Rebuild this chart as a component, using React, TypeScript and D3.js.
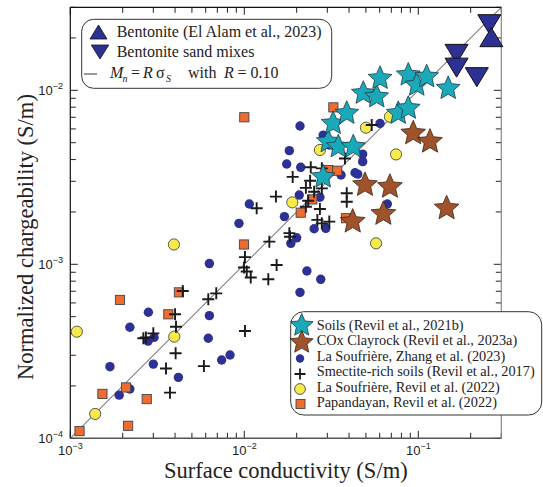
import React from 'react';
import * as d3 from 'd3';

// ---------- data ----------
const xDomain: [number, number] = [1e-3, 0.3];
const yDomain: [number, number] = [1e-4, 0.03];
const xMajorTicks = [1e-3, 1e-2, 1e-1];
const xMajorExp = ['−3', '−2', '−1'];
const yMajorTicks = [1e-4, 1e-3, 1e-2];
const yMajorExp = ['−4', '−3', '−2'];
const lineR = 0.1;

const bentonite: [number, number][] = [[0.263, 0.0202]];
const bentoniteSand: [number, number][] = [
  [0.256, 0.024], [0.166, 0.0162], [0.166, 0.0135], [0.217, 0.0119],
];
const soils: [number, number][] = [
  [0.0284, 0.00318], [0.0304, 0.00507], [0.0347, 0.00474], [0.0423, 0.00474],
  [0.0324, 0.00645], [0.0388, 0.00738], [0.0483, 0.00962], [0.0577, 0.00918],
  [0.0603, 0.01172], [0.0767, 0.00738], [0.0876, 0.00789], [0.0876, 0.01225],
  [0.098, 0.01071], [0.1117, 0.01197], [0.1486, 0.01026],
];
const coxClayrock: [number, number][] = [
  [0.0935, 0.00566], [0.1167, 0.00507], [0.0494, 0.00286], [0.0687, 0.00279],
  [0.1455, 0.0021], [0.063, 0.00195], [0.042, 0.00176],
];
const soufriereZhang: [number, number][] = [
  [0.0209, 0.00624], [0.01815, 0.0045], [0.0284, 0.00553], [0.0479, 0.0043],
  [0.0603, 0.00645], [0.0479, 0.00389], [0.01753, 0.00377], [0.0211, 0.00361],
  [0.0433, 0.00336], [0.0449, 0.0033], [0.036, 0.00326], [0.0207, 0.0025],
  [0.0272, 0.00243], [0.01069, 0.00222], [0.0664, 0.00222], [0.017, 0.00188],
  [0.00932, 0.00172], [0.0252, 0.0016], [0.0294, 0.00161], [0.02, 0.00142],
  [0.01852, 0.00132], [0.0063, 0.00101], [0.0229, 0.000915], [0.0275, 0.00082],
  [0.0209, 0.00069], [0.00281, 0.00053], [0.0063, 0.000507], [0.0022, 0.000435],
  [0.00303, 0.00038], [0.0028, 0.000362], [0.00621, 0.000376], [0.00828, 0.000301],
  [0.00741, 0.000282], [0.003, 0.000267], [0.00169, 0.000258], [0.00418, 0.000224],
  [0.0022, 0.000192], [0.00191, 0.000177], [0.0308, 0.00485],
];
const smectiteSoils: [number, number][] = [
  [0.0241, 0.00361], [0.0279, 0.00356], [0.01897, 0.00318], [0.0239, 0.00302],
  [0.0226, 0.00275], [0.0252, 0.00261], [0.0279, 0.00273], [0.0152, 0.00245],
  [0.0388, 0.00256], [0.0388, 0.00229], [0.0233, 0.00232], [0.0226, 0.00214],
  [0.01178, 0.0021], [0.0272, 0.00208], [0.0263, 0.0018], [0.0279, 0.00172],
  [0.0308, 0.00176], [0.01815, 0.00151], [0.01832, 0.00144], [0.01393, 0.00135],
  [0.01009, 0.0011], [0.01534, 0.00099], [0.00996, 0.000958], [0.01033, 0.000909],
  [0.01089, 0.00084], [0.01374, 0.00082], [0.0069, 0.000681], [0.00621, 0.00063],
  [0.00443, 0.000703], [0.004, 0.000516], [0.0379, 0.00406], [0.054, 0.00632],
  [0.00405, 0.000438], [0.003, 0.000401], [0.00272, 0.00038], [0.00263, 0.000376],
  [0.00403, 0.000308], [0.01009, 0.000414], [0.00355, 0.000252], [0.00586, 0.00026],
  [0.00374, 0.000183],
];
const soufriereRevil: [number, number][] = [
  [0.0272, 0.00454], [0.05005, 0.0061], [0.0687, 0.00705], [0.0745, 0.00428],
  [0.01888, 0.00227], [0.00394, 0.0013], [0.0572, 0.00132], [0.00109, 0.00041],
  [0.00396, 0.000384], [0.00139, 0.000138],
];
const papandayan: [number, number][] = [
  [0.0325, 0.00798], [0.01, 0.007], [0.0304, 0.00348], [0.0342, 0.00345],
  [0.0246, 0.00236], [0.0211, 0.00198], [0.0384, 0.00184], [0.00996, 0.0013],
  [0.00421, 0.00069], [0.00193, 0.000624], [0.00366, 0.000516], [0.00209, 0.000196],
  [0.00153, 0.00018], [0.00275, 0.000168], [0.00215, 0.000118], [0.00113, 0.00011],
];

const legend1Labels = ['Bentonite (El Alam et al., 2023)', 'Bentonite sand mixes'];
const legend2Labels = [
  'Soils (Revil et al., 2021b)',
  'COx Clayrock (Revil et al., 2023a)',
  'La Soufrière, Zhang et al. (2023)',
  'Smectite-rich soils (Revil et al., 2017)',
  'La Soufrière, Revil et al. (2022)',
  'Papandayan, Revil et al. (2022)',
];

// ---------- styles ----------
const W = 543;
const H = 487;
const PL = 70.3, PR = 501.3, PT = 7.3, PB = 438.3;
const SERIF = 'Liberation Serif, DejaVu Serif, serif';
const SANS = 'Liberation Sans, Arial, sans-serif';
const C_CYAN = '#1aa9b8';
const C_BROWN = '#a0532a';
const C_NAVY = '#2c3193';
const C_YELLOW = '#f6ea4c';
const C_ORANGE = '#ef6c31';

function starPath(cx: number, cy: number, R: number, r: number) {
  const pts: string[] = [];
  for (let i = 0; i < 10; i++) {
    const rad = i % 2 === 0 ? R : r;
    const a = -Math.PI / 2 + (i * Math.PI) / 5;
    pts.push(`${(cx + rad * Math.cos(a)).toFixed(2)},${(cy + rad * Math.sin(a)).toFixed(2)}`);
  }
  return 'M' + pts.join('L') + 'Z';
}
function triPath(cx: number, cy: number, w: number, h: number, up: boolean) {
  if (up) return `M${cx - w / 2},${cy + h / 2}L${cx + w / 2},${cy + h / 2}L${cx},${cy - h / 2}Z`;
  return `M${cx - w / 2},${cy - h / 2}L${cx + w / 2},${cy - h / 2}L${cx},${cy + h / 2}Z`;
}
function plusPath(cx: number, cy: number, s: number) {
  return `M${cx - s / 2},${cy}H${cx + s / 2}M${cx},${cy - s / 2}V${cy + s / 2}`;
}

export default function App() {
  const x = d3.scaleLog().domain(xDomain).range([PL, PR]);
  const y = d3.scaleLog().domain(yDomain).range([PB, PT]);
  const xt = x.ticks();
  const yt = y.ticks();
  const isMajor = (v: number) => Math.abs(Math.log10(v) - Math.round(Math.log10(v))) < 1e-6;

  const lineStart = xDomain[0];
  const lineEnd = xDomain[1];

  return (
    <svg width={W} height={H} style={{ position: 'absolute', left: 0, top: 0, background: '#fff' }}>
      <rect x={0} y={0} width={W} height={H} fill="#fff" />
      {/* ticks */}
      {xt.map((v, i) => {
        const L = isMajor(v) ? 7.5 : 5.5;
        const px = x(v);
        return (
          <g key={'xt' + i} stroke="#222" strokeWidth={1}>
            <line x1={px} x2={px} y1={PB} y2={PB - L} />
            <line x1={px} x2={px} y1={PT} y2={PT + L} />
          </g>
        );
      })}
      {yt.map((v, i) => {
        const L = isMajor(v) ? 7.5 : 5.5;
        const py = y(v);
        return (
          <g key={'yt' + i} stroke="#222" strokeWidth={1}>
            <line x1={PL} x2={PL + L} y1={py} y2={py} />
            <line x1={PR} x2={PR - L} y1={py} y2={py} />
          </g>
        );
      })}
      {/* spines */}
      <line x1={PL} x2={PR} y1={PT} y2={PT} stroke="#111" strokeWidth={1.2} />
      <line x1={PL} x2={PL} y1={PT} y2={PB} stroke="#111" strokeWidth={1.2} />
      <line x1={PL} x2={PR} y1={PB} y2={PB} stroke="#555" strokeWidth={1.5} />
      <line x1={PR} x2={PR} y1={PT} y2={PB} stroke="#888" strokeWidth={1.2} />

      {/* tick labels */}
      {xMajorTicks.map((v, i) => (
        <text key={'xl' + i} x={x(v)} y={455} textAnchor="middle" fontFamily={SANS} fontSize={13} fill="#222">
          10<tspan dy={-6} fontSize={9}>{xMajorExp[i]}</tspan>
        </text>
      ))}
      {yMajorTicks.map((v, i) => (
        <text key={'yl' + i} x={63} y={y(v) + 5} textAnchor="end" fontFamily={SANS} fontSize={13} fill="#222">
          10<tspan dy={-6} fontSize={9}>{yMajorExp[i]}</tspan>
        </text>
      ))}

      {/* axis titles */}
      <text x={(PL + PR) / 2} y={478} textAnchor="middle" fontFamily={SERIF} fontSize={22.5} fill="#222">
        Surface conductivity (S/m)
      </text>
      <text transform={`translate(33,${237}) rotate(-90)`} textAnchor="middle" fontFamily={SERIF} fontSize={22.5} fill="#222">
        Normalized chargeability (S/m)
      </text>

      {/* reference line */}
      <line x1={x(lineStart)} y1={y(lineStart * lineR)} x2={x(lineEnd)} y2={y(lineEnd * lineR)} stroke="#444" strokeWidth={1} />

      {/* data */}
      {soufriereZhang.map((d, i) => (
        <circle key={'bz' + i} cx={x(d[0])} cy={y(d[1])} r={4.7} fill={C_NAVY} />
      ))}
      {soufriereRevil.map((d, i) => (
        <circle key={'yr' + i} cx={x(d[0])} cy={y(d[1])} r={5.6} fill={C_YELLOW} stroke="#333" strokeWidth={0.8} />
      ))}
      {papandayan.map((d, i) => (
        <rect key={'pp' + i} x={x(d[0]) - 4.6} y={y(d[1]) - 4.6} width={9.2} height={9.2} fill={C_ORANGE} stroke="#444" strokeWidth={0.9} />
      ))}
      {smectiteSoils.map((d, i) => (
        <path key={'sm' + i} d={plusPath(x(d[0]), y(d[1]), 12)} stroke="#1a1a1a" strokeWidth={1.9} fill="none" />
      ))}
      {coxClayrock.map((d, i) => (
        <path key={'cx' + i} d={starPath(x(d[0]), y(d[1]), 13, 6)} fill={C_BROWN} stroke="#3a2414" strokeWidth={0.8} />
      ))}
      {soils.map((d, i) => (
        <path key={'so' + i} d={starPath(x(d[0]), y(d[1]), 12.5, 5.8)} fill={C_CYAN} stroke="#1d3a48" strokeWidth={0.8} />
      ))}
      {bentoniteSand.map((d, i) => (
        <path key={'bs' + i} d={triPath(x(d[0]), y(d[1]), 23, 19, false)} fill={C_NAVY} stroke="#111" strokeWidth={1} />
      ))}
      {bentonite.map((d, i) => (
        <path key={'bt' + i} d={triPath(x(d[0]), y(d[1]), 23, 19, true)} fill={C_NAVY} stroke="#111" strokeWidth={1} />
      ))}

      {/* legend 1 */}
      <rect x={81.7} y={19.3} width={250} height={69} rx={12} ry={12} fill="#fff" stroke="#333" strokeWidth={1} />
      <path d={triPath(98.5, 32, 17, 14, true)} fill={C_NAVY} stroke="#111" strokeWidth={0.8} />
      <path d={triPath(100, 52, 17.5, 14, false)} fill={C_NAVY} stroke="#111" strokeWidth={0.8} />
      <line x1={84} x2={97} y1={74} y2={74} stroke="#777" strokeWidth={1.5} />
      <text x={116.7} y={37} fontFamily={SERIF} fontSize={16} fill="#222">{legend1Labels[0]}</text>
      <text x={116.7} y={57} fontFamily={SERIF} fontSize={16} fill="#222">{legend1Labels[1]}</text>
      <text y={78} fontFamily={SERIF} fontSize={16} fill="#222">
        <tspan x={110} fontStyle="italic">M</tspan>
        <tspan x={122.5} dy={4} fontStyle="italic" fontSize={10}>n</tspan>
        <tspan x={131} dy={-4}>=</tspan>
        <tspan x={143} fontStyle="italic">R</tspan>
        <tspan x={156}>σ</tspan>
        <tspan x={166} dy={4} fontStyle="italic" fontSize={10}>S</tspan>
        <tspan x={188} dy={-4}>with</tspan>
        <tspan x={224} fontStyle="italic">R</tspan>
        <tspan x={237.5}>=</tspan>
        <tspan x={250.5}>0.10</tspan>
      </text>

      {/* legend 2 */}
      <rect x={290.7} y={311.7} width={251} height={103.3} rx={13} ry={13} fill="#fff" stroke="#333" strokeWidth={1} />
      <path d={starPath(301.7, 325.5, 12, 5.6)} fill={C_CYAN} stroke="#1d3a48" strokeWidth={0.8} />
      <path d={starPath(301.7, 342.5, 12, 5.6)} fill={C_BROWN} stroke="#3a2414" strokeWidth={0.8} />
      <circle cx={300} cy={358.5} r={4.2} fill={C_NAVY} />
      <path d={plusPath(300, 374, 11)} stroke="#1a1a1a" strokeWidth={1.8} fill="none" />
      <circle cx={300} cy={389} r={5.4} fill={C_YELLOW} stroke="#333" strokeWidth={0.8} />
      <rect x={296} y={399.5} width={9} height={9} fill={C_ORANGE} stroke="#444" strokeWidth={0.9} />
      {legend2Labels.map((t, i) => (
        <text key={'l2' + i} x={316.7} y={330 + i * 15.4} fontFamily={SERIF} fontSize={14.3} fill="#222">{t}</text>
      ))}
    </svg>
  );
}
